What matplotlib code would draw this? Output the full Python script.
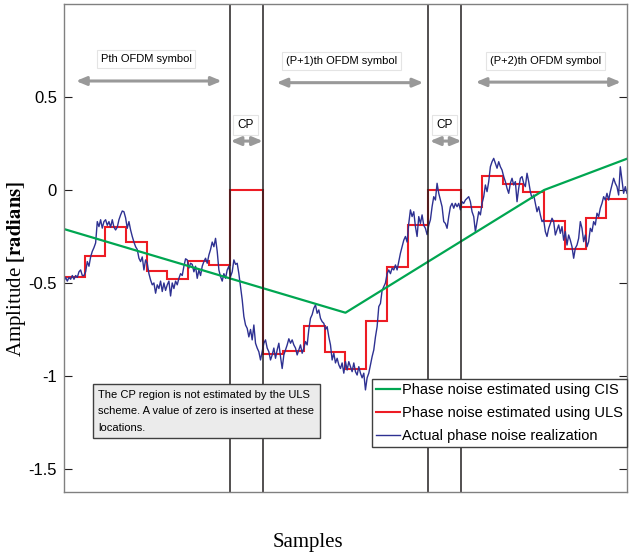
import matplotlib
matplotlib.use("Agg")
import matplotlib.pyplot as plt
import numpy as np

plt.rcParams['font.family'] = ['Liberation Sans', 'DejaVu Sans']
plt.rcParams['mathtext.fontset'] = 'stix'

SYM_LEN = 80   # samples per OFDM symbol
CP_LEN = 16    # cyclic prefix length
BLOCK = 10     # ULS block length

# ULS estimate, one value per block (CP regions are zero)
uls_sym1 = [-0.47, -0.353, -0.20, -0.281, -0.434, -0.479, -0.38, -0.403]
uls_sym2 = [-0.884, -0.864, -0.731, -0.869, -0.961, -0.704, -0.415, -0.188]
uls_sym3 = [-0.093, 0.075, 0.03, -0.011, -0.165, -0.315, -0.152, -0.05]

# CIS estimate (linear between symbol centres)
cis_x = [0, 136, 232, 272]
cis_y = [-0.21, -0.66, 0.0, 0.168]

# actual phase noise realization left to right
actual_phase = [
    -0.49, -0.47, -0.49, -0.47, -0.48, -0.46, -0.48, -0.46, -0.47, -0.44,
    # first symbol
    -0.43, -0.46, -0.46, -0.44, -0.385, -0.41, -0.36, -0.33, -0.31, -0.285,
    -0.17, -0.197, -0.16, -0.205, -0.17, -0.16, -0.19, -0.17, -0.2, -0.16,
    -0.2, -0.215, -0.2, -0.16, -0.134, -0.113, -0.117, -0.15, -0.206, -0.17,
    -0.215, -0.25, -0.28, -0.305, -0.32, -0.367, -0.385, -0.36, -0.43, -0.376,
    -0.394, -0.45, -0.484, -0.51, -0.5, -0.555, -0.51, -0.53, -0.49, -0.546,
    -0.5, -0.54, -0.51, -0.49,
    # end of first symbol + first CP
    -0.57, -0.5, -0.53, -0.49, -0.51, -0.475, -0.45, -0.46, -0.41, -0.37,
    -0.376, -0.42, -0.394, -0.4, -0.44, -0.41, -0.475, -0.43, -0.46, -0.41,
    -0.385, -0.367, -0.394, -0.35, -0.32, -0.28, -0.305, -0.26, -0.33, -0.43,
    -0.466, -0.49, -0.45, -0.475, -0.43, -0.41, -0.466, -0.44, -0.376, -0.4,
    -0.394, -0.45, -0.52, -0.59, -0.68, -0.726, -0.744, -0.79, -0.75, -0.806,
    -0.726, -0.824, -0.85, -0.87, -0.914, -0.87, -0.824, -0.806, -0.85, -0.87,
    -0.914,
    # second symbol
    -0.887, -0.85, -0.905, -0.86, -0.824, -0.896, -0.96, -0.887, -0.86, -0.833,
    -0.8, -0.824, -0.806, -0.833, -0.85, -0.887, -0.86, -0.833, -0.878, -0.85,
    -0.815, -0.833, -0.75, -0.69, -0.67, -0.636, -0.618, -0.663, -0.645, -0.69,
    -0.708, -0.717, -0.75, -0.735, -0.79, -0.833, -0.914, -0.878, -0.93, -0.905,
    -0.94, -0.96, -0.93, -0.985, -0.923, -0.968, -0.923, -0.95, -0.977, -0.93,
    -0.977, -0.995, -0.95, -0.985, -1.01, -0.985, -1.075, -1.01, -0.985, -0.94,
    -0.896, -0.86,
    -0.79, -0.735, -0.627, -0.61, -0.54, -0.52, -0.5, -0.45, -0.43, -0.45,
    -0.42, -0.43, -0.403, -0.43, -0.385, -0.34, -0.305, -0.27, -0.25, -0.28,
    -0.18, -0.107, -0.143, -0.117, -0.197, -0.25, -0.143, -0.18, -0.134, -0.19,
    -0.206, -0.24, -0.19, -0.16, -0.09, -0.036, -0.054, 0.036, -0.018, -0.054,
    -0.09, -0.17, -0.18, -0.206, -0.143, -0.09, -0.072, -0.098, -0.072, -0.09,
    -0.072, -0.107, -0.063,
    # third symbol
    -0.072, -0.054, -0.045, -0.036, -0.063, -0.117, -0.143, -0.224, -0.17, -0.117,
    -0.134, -0.072, -0.036, 0.027, -0.009, 0.045, 0.125, 0.152, 0.17, 0.143,
    0.117, 0.152, 0.125, 0.107, 0.072, 0.045, 0.009, -0.018, 0.036, 0.063,
    0.027, 0.045, -0.063, 0.009, 0.063, 0.072, 0.036, 0.018, 0.09, 0.045,
    -0.009, -0.045, -0.027, -0.072, -0.117, -0.09, -0.134, -0.17, -0.161, -0.224,
    -0.25, -0.206,
    -0.18, -0.152, -0.17, -0.242, -0.215, -0.188, -0.233, -0.197, -0.27, -0.224,
    -0.296, -0.242, -0.27, -0.305, -0.367, -0.313, -0.296, -0.26, -0.17, -0.206,
    -0.278, -0.242, -0.305, -0.278, -0.206, -0.224, -0.17, -0.188, -0.125, -0.143,
    -0.098, -0.072, -0.036, -0.054, -0.018, -0.054, -0.009, 0.027, 0.063, 0.036,
    0.018, -0.027, 0.125, 0.054, -0.018, 0.018, -0.018,
]

total = 3 * SYM_LEN + 2 * CP_LEN

# block edges for the step curve
edges = [0]
uls_vals = []
pos = 0
for i, sym in enumerate([uls_sym1, uls_sym2, uls_sym3]):
    for v in sym:
        pos += BLOCK
        edges.append(pos)
        uls_vals.append(v)
    if i < 2:
        pos += CP_LEN
        edges.append(pos)
        uls_vals.append(0.0)

cp_lines = [SYM_LEN, SYM_LEN + CP_LEN, 2 * SYM_LEN + CP_LEN, 2 * SYM_LEN + 2 * CP_LEN]

fig = plt.figure(figsize=(6.41, 5.56), dpi=100)
ax = fig.add_axes([0.0998, 0.1151, 0.8783, 0.8777])

xs = np.linspace(0, total, len(actual_phase))
h_act, = ax.plot(xs, actual_phase, color='#2E3192', lw=1.0)
h_uls = ax.stairs(uls_vals, edges, color='#ED1C24', lw=1.5, baseline=None)
h_cis, = ax.plot(cis_x, cis_y, color='#00A651', lw=1.6)

for x in cp_lines:
    ax.axvline(x, color='#231F20', lw=1.1)

ax.set_xlim(0, total)
ax.set_ylim(-1.624, 1.0)
ax.set_xticks([])
ax.set_yticks([0.5, 0, -0.5, -1, -1.5])
ax.set_yticklabels(['0.5', '0', '-0.5', '-1', '-1.5'])
ax.tick_params(axis='y', direction='in', right=True, length=6, labelsize=12,
               pad=5, color='#231F20')
for s in ax.spines.values():
    s.set_color('#808080')
    s.set_linewidth(1.0)

arrow = dict(arrowstyle='<|-|>,head_length=0.6,head_width=0.25', color='#999999',
             lw=2.2, shrinkA=0, shrinkB=0)
tbox = dict(boxstyle='square,pad=0.35', fc='white', ec='#e4e4e4', lw=0.8)

spans = [(5.8, 76.2, 0.586), (102.7, 173.6, 0.577), (198.9, 269.1, 0.58),
         (80.5, 96.1, 0.263), (176.8, 192.1, 0.263)]
for x0, x1, y in spans:
    ax.annotate('', xy=(x1, y), xytext=(x0, y), arrowprops=arrow)

ax.text(39.7, 0.703, 'Pth OFDM symbol', ha='center', va='center', fontsize=8, bbox=tbox)
ax.text(134.3, 0.692, '(P+1)th OFDM symbol', ha='center', va='center', fontsize=8, bbox=tbox)
ax.text(232.6, 0.692, '(P+2)th OFDM symbol', ha='center', va='center', fontsize=8, bbox=tbox)
ax.text(87.8, 0.35, 'CP', ha='center', va='center', fontsize=8.5, bbox=tbox)
ax.text(183.8, 0.35, 'CP', ha='center', va='center', fontsize=8.5, bbox=tbox)

ax.text(16.6, -1.075,
        'The CP region is not estimated by the ULS\n'
        'scheme. A value of zero is inserted at these\n'
        'locations.',
        ha='left', va='top', fontsize=8, linespacing=1.8,
        bbox=dict(boxstyle='square,pad=0.5', fc='#EBEBEB', ec='#404040', lw=1.0))

leg = ax.legend([h_cis, h_uls, h_act],
                ['Phase noise estimated using CIS',
                 'Phase noise estimated using ULS',
                 'Actual phase noise realization'],
                loc='lower right', bbox_to_anchor=(1.0, 0.092), borderaxespad=0,
                fontsize=10.5, handlelength=1.6, handletextpad=0.15,
                labelspacing=0.6, fancybox=False, framealpha=1,
                edgecolor='#404040', borderpad=0.3)
leg.get_frame().set_linewidth(1.0)

fig.text(17 / 641, 1 - 269 / 556, r'Amplitude $\mathbf{[radians]}$', rotation=90,
         ha='center', va='center', fontsize=15, family='Liberation Serif')
fig.text(308 / 641, 1 - 543 / 556, 'Samples', ha='center', va='center',
         fontsize=15, family='Liberation Serif')

fig.savefig('out.png', dpi=100)
